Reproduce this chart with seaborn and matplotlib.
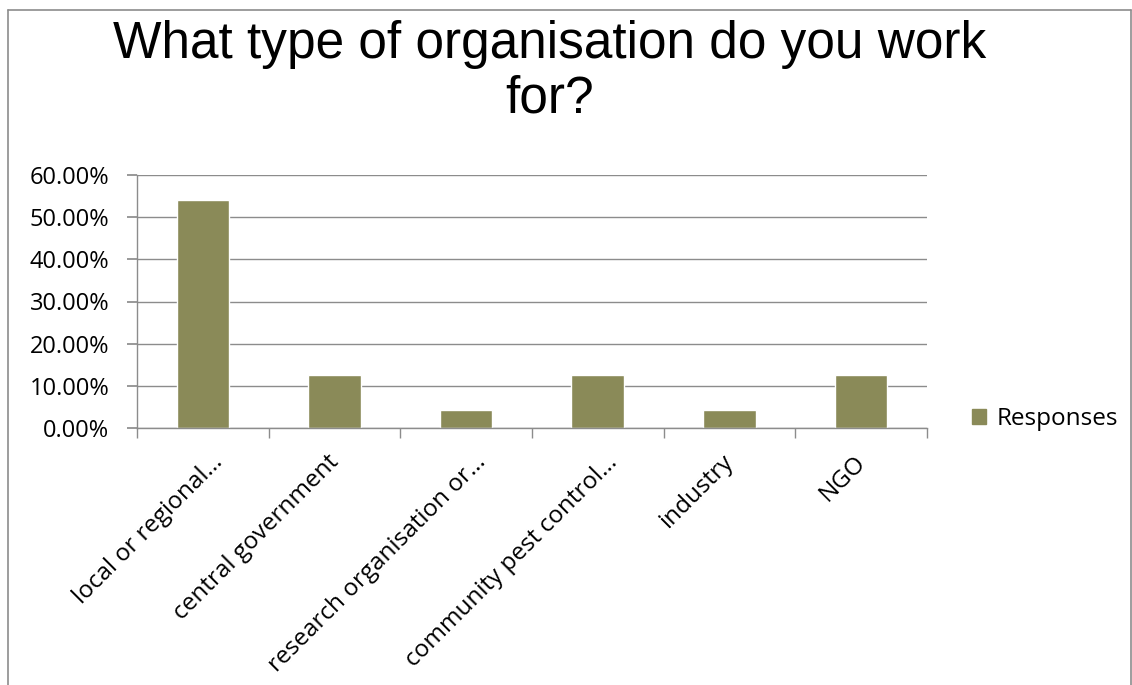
import matplotlib
matplotlib.use("Agg")
import matplotlib.pyplot as plt
import seaborn as sns
import pandas as pd
from matplotlib.patches import Rectangle
from matplotlib.lines import Line2D
import matplotlib.transforms as mtrans

categories = ["local or regional…", "central government", "research organisation or…",
              "community pest control…", "industry", "NGO"]
values = [54.17, 12.5, 4.17, 12.5, 4.17, 12.5]
yticks = [0, 10, 20, 30, 40, 50, 60]
series_name = "Responses"
title = "What type of organisation do you work\nfor?"

sns.set_theme(style="white")
plt.rcParams['font.family'] = ['Open Sans', 'DejaVu Sans']

bar_color = "#8A8A58"
grid_color = "#8C8C8C"

fig = plt.figure(figsize=(11.32, 6.85), dpi=100)
ax = fig.add_axes([137/1132, 1-428/685, (927-137)/1132, (428-175)/685])

df = pd.DataFrame({"cat": categories, "val": values})
sns.barplot(data=df, x="cat", y="val", color=bar_color, width=0.4, ax=ax,
            saturation=1, label=series_name)

ax.set_ylim(0, 60)
ax.set_xlim(-0.5, len(categories) - 0.5)
ax.set_yticks(yticks)
ax.set_yticklabels([f"{v:.2f}%" for v in yticks], fontsize=17, color="#000000")
for y in yticks:
    ax.axhline(y, color=grid_color, lw=1, zorder=0)
ax.set_xlabel("")
ax.set_ylabel("")
for s in ["top", "right"]:
    ax.spines[s].set_visible(False)
for s in ["left", "bottom"]:
    ax.spines[s].set_color(grid_color)
    ax.spines[s].set_linewidth(1)
ax.tick_params(axis="y", length=7, color=grid_color, left=True, pad=13)
ax.set_xticks([i - 0.5 for i in range(len(categories) + 1)], minor=True)
ax.tick_params(axis="x", which="minor", length=7, color=grid_color, bottom=True)
ax.tick_params(axis="x", which="major", length=0, pad=16)
ax.set_xticks(range(len(categories)))
ax.set_xticklabels(categories, rotation=45, ha="right", rotation_mode="anchor",
                   fontsize=17.5, color="#000000")
for lbl in ax.get_xticklabels():
    dx = 8 if lbl.get_text().endswith("…") else -8
    offset = mtrans.ScaledTranslation(dx/100, 0, fig.dpi_scale_trans)
    lbl.set_transform(lbl.get_transform() + offset)

if ax.get_legend():
    ax.get_legend().remove()
handle = Rectangle((0, 0), 1, 1, color=bar_color)
fig.legend([handle], [series_name], loc="center left",
           bbox_to_anchor=(950/1132, 1-419/685), frameon=False, fontsize=17.5,
           handlelength=0.6, handleheight=0.6, handletextpad=0.4,
           labelcolor="#000000")

fig.text(550/1132, 1-72/685, title, ha="center", va="center", fontsize=37,
         family=["Liberation Sans", "DejaVu Sans"], linespacing=1.15, color="#000000")

for (x0, y0, x1, y1) in [(8, 10, 1131, 10), (8, 10, 8, 685), (1131, 10, 1131, 685)]:
    fig.add_artist(Line2D([x0/1132, x1/1132], [1-y0/685, 1-y1/685], color="#8C8C8C",
                          lw=1.2, transform=fig.transFigure))

fig.savefig("out.png", dpi=100)
